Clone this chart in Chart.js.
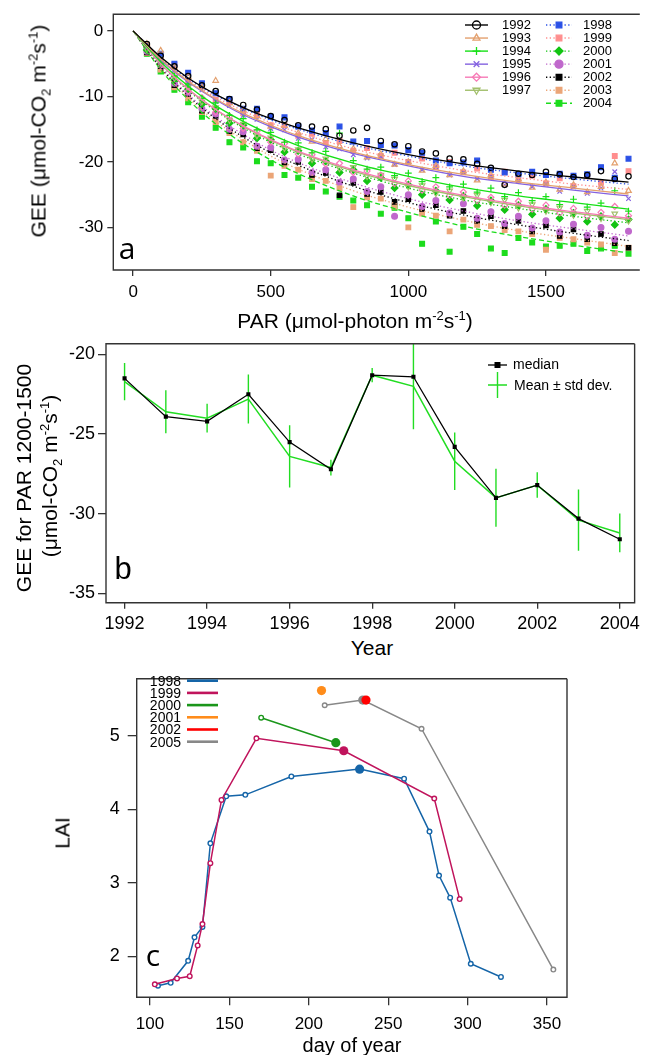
<!DOCTYPE html>
<html>
<head>
<meta charset="utf-8">
<script src="https://cdn.jsdelivr.net/npm/chart.js@4.4.1/dist/chart.umd.min.js"></script>
<style>
  html, body { margin: 0; padding: 0; background: #fff; overflow: hidden; }
  body { width: 645px; height: 1055px; position: relative; font-family: "Liberation Sans", Arial, sans-serif; color: #000; }
  canvas { position: absolute; left: 0; }
  .t { position: absolute; white-space: nowrap; line-height: 1; transform: translate(-50%, -50%); font-size: 21px; }
  .rot { transform: translate(-50%, -50%) rotate(-90deg); }
  .t sup, .t sub { font-size: 0.62em; line-height: 0; }
  .lt { font-family: "Open Sans", sans-serif; font-size: 30px; }
</style>
</head>
<body>
<canvas id="chartA" width="645" height="300" style="top:0"></canvas>
<canvas id="chartB" width="645" height="300" style="top:330px"></canvas>
<canvas id="chartC" width="645" height="395" style="top:660px"></canvas>

<div class="t rot" style="left:38px;top:131px">GEE (μmol-CO<sub>2</sub> m<sup>-2</sup>s<sup>-1</sup>)</div>
<div class="t" style="left:355px;top:320px">PAR (μmol-photon m<sup>-2</sup>s<sup>-1</sup>)</div>
<div class="t lt" style="left:127px;top:248px">a</div>

<div class="t rot" style="left:23px;top:478px">GEE for PAR 1200-1500</div>
<div class="t rot" style="left:49px;top:476px">(μmol-CO<sub>2</sub> m<sup>-2</sup>s<sup>-1</sup>)</div>
<div class="t" style="left:372px;top:647px">Year</div>
<div class="t" style="left:123px;top:568px;font-size:31px">b</div>

<div class="t rot" style="left:62px;top:833px">LAI</div>
<div class="t" style="left:352px;top:1045px;font-size:20px">day of year</div>
<div class="t lt" style="left:153px;top:955px">c</div>

<script>
// ---- panel a: GEE vs PAR, binned points per year + fitted light curves
const YEARS_A = [1992, 1993, 1994, 1995, 1996, 1997, 1998, 1999, 2000, 2001, 2002, 2003, 2004];
const PAR_BINS = [50, 100, 150, 200, 250, 300, 350, 400, 450, 500, 550, 600, 650, 700, 750, 800, 850, 900,
  950, 1000, 1050, 1100, 1150, 1200, 1250, 1300, 1350, 1400, 1450, 1500, 1550, 1600, 1650, 1700, 1750, 1800];
const PAR_TICKS = [0, 500, 1000, 1500];
const GEE_TICKS = [0, -10, -20, -30];

const GEE_1992 = [-2.0,-3.8,-5.4,-6.9,-8.3,-9.2,-10.4,-11.3,-12.0,-13.0,-13.6,-14.4,-14.6,-15.0,-16.0,-15.2,-14.8,-16.8,-17.3,-17.6,-18.4,-18.7,-19.5,-19.6,-20.3,-20.9,-23.5,-21.8,-22.0,-21.5,-21.9,-22.3,-22.0,-21.4,-22.6,-22.2];
const GEE_1993 = [-2.0,-3.0,-5.6,-7.0,-8.6,-7.6,-11.0,-12.1,-13.0,-14.6,-14.5,-15.6,-16.9,-16.5,-17.6,-18.0,-19.3,-18.8,-20.4,-20.0,-21.3,-20.6,-22.0,-21.4,-22.8,-22.0,-23.4,-22.6,-23.9,-23.1,-24.2,-23.5,-24.6,-23.8,-20.2,-24.4];
const GEE_1994 = [-2.6,-4.4,-6.9,-8.1,-10.3,-11.0,-12.9,-13.4,-15.1,-15.5,-17.0,-17.1,-18.6,-18.4,-15.6,-19.8,-21.1,-20.8,-22.1,-21.7,-23.0,-22.4,-23.8,-23.4,-24.6,-24.0,-25.3,-24.7,-25.9,-25.3,-26.5,-25.7,-26.9,-26.3,-24.4,-27.5];
const GEE_1995 = [-2.4,-4.6,-6.0,-8.0,-9.0,-10.8,-11.4,-12.9,-13.5,-14.9,-15.1,-16.4,-16.6,-17.7,-18.0,-18.9,-19.4,-19.2,-20.4,-20.0,-21.2,-20.7,-22.0,-21.6,-22.6,-22.2,-23.5,-22.9,-23.8,-23.4,-24.5,-23.8,-24.8,-24.0,-21.5,-25.6];
const GEE_1996 = [-2.5,-5.2,-6.7,-9.2,-10.2,-12.4,-13.0,-14.9,-15.3,-17.0,-17.2,-18.8,-18.9,-20.3,-20.2,-21.6,-21.4,-22.0,-23.3,-22.9,-24.3,-23.8,-25.1,-24.6,-25.9,-25.4,-26.6,-26.0,-27.2,-26.6,-27.8,-27.1,-28.3,-27.7,-26.8,-28.2];
const GEE_1997 = [-2.8,-4.8,-7.2,-8.6,-10.8,-11.7,-13.6,-14.2,-16.0,-16.3,-17.9,-18.1,-19.6,-19.5,-21.0,-20.8,-22.2,-22.0,-22.6,-23.8,-23.6,-24.8,-24.4,-25.5,-25.1,-26.2,-25.8,-27.0,-26.5,-27.5,-27.0,-28.1,-27.5,-28.6,-27.9,-29.0];
const GEE_1998 = [-2.3,-3.5,-5.0,-6.4,-8.0,-9.5,-10.4,-11.9,-11.9,-13.1,-13.2,-14.6,-15.2,-15.6,-14.6,-16.9,-16.8,-17.4,-17.5,-18.2,-18.6,-19.8,-20.2,-20.1,-19.8,-21.2,-21.6,-21.9,-21.5,-22.0,-21.8,-22.1,-21.9,-20.8,-22.4,-19.5];
const GEE_1999 = [-2.2,-4.5,-5.2,-7.8,-8.4,-10.5,-10.9,-12.6,-12.8,-14.4,-14.4,-16.0,-15.7,-17.1,-16.8,-18.3,-17.9,-19.1,-18.6,-20.0,-19.5,-20.8,-20.0,-21.6,-21.0,-22.3,-21.5,-22.8,-22.1,-23.3,-22.5,-23.7,-22.2,-23.2,-19.1,-21.4];
const GEE_2000 = [-2.9,-5.0,-7.5,-8.9,-11.2,-11.9,-14.1,-14.4,-16.4,-16.6,-18.5,-18.3,-20.2,-19.9,-21.6,-21.2,-22.9,-22.4,-24.0,-23.5,-25.0,-24.4,-25.8,-25.2,-26.7,-25.9,-27.3,-26.6,-28.0,-27.2,-28.6,-27.8,-29.1,-28.3,-29.6,-28.8];
const GEE_2001 = [-3.1,-5.2,-8.0,-9.4,-11.9,-12.7,-15.0,-15.4,-17.6,-17.8,-19.7,-19.6,-21.6,-21.2,-23.1,-22.6,-24.5,-23.8,-28.3,-25.0,-26.8,-25.9,-27.8,-26.4,-28.6,-27.6,-29.4,-28.3,-30.1,-29.0,-30.7,-29.5,-31.2,-30.0,-31.8,-30.6];
const GEE_2002 = [-3.3,-5.4,-8.3,-9.6,-12.2,-13.0,-15.3,-15.8,-17.9,-18.2,-20.1,-20.0,-22.0,-21.7,-25.1,-23.2,-24.9,-24.6,-26.1,-25.7,-27.2,-26.6,-28.2,-27.5,-29.0,-28.3,-29.8,-29.0,-30.6,-29.7,-31.3,-30.3,-31.8,-31.0,-32.4,-33.1];
const GEE_2003 = [-3.4,-5.9,-8.6,-10.3,-12.4,-13.9,-15.6,-17.0,-18.3,-22.1,-20.6,-21.2,-22.6,-22.9,-24.0,-26.9,-25.4,-25.6,-26.8,-30.0,-27.9,-28.2,-30.6,-28.8,-29.6,-29.8,-30.4,-30.6,-31.0,-33.4,-31.6,-31.8,-32.3,-32.6,-33.9,-33.1];
const GEE_2004 = [-3.5,-6.2,-9.0,-10.9,-13.1,-14.8,-17.0,-17.8,-19.9,-20.2,-22.0,-22.4,-23.8,-24.5,-25.3,-25.9,-26.6,-27.9,-27.0,-28.6,-32.5,-29.1,-33.7,-29.9,-31.0,-33.2,-33.9,-31.6,-32.3,-32.9,-32.8,-32.5,-33.6,-33.2,-32.8,-34.0];

// fitted curves, read at these PAR values
const FIT_PAR = [0, 100, 200, 300, 400, 500, 600, 800, 1000, 1200, 1400, 1600, 1800];
const FIT_1992 = [0, -4.0, -7.2, -9.7, -11.7, -13.4, -14.8, -17.1, -18.9, -20.3, -21.4, -22.3, -23.1];
const FIT_1993 = [0, -4.3, -7.7, -10.4, -12.6, -14.4, -16.0, -18.5, -20.4, -21.9, -23.1, -24.0, -24.9];
const FIT_1994 = [0, -4.7, -8.4, -11.4, -13.8, -15.8, -17.5, -20.2, -22.2, -23.9, -25.2, -26.2, -27.2];
const FIT_1995 = [0, -4.4, -7.8, -10.5, -12.8, -14.6, -16.2, -18.7, -20.6, -22.2, -23.3, -24.3, -25.2];
const FIT_1996 = [0, -5.0, -8.9, -12.0, -14.5, -16.6, -18.4, -21.2, -23.4, -25.1, -26.5, -27.6, -28.6];
const FIT_1997 = [0, -5.0, -8.9, -12.0, -14.6, -16.7, -18.5, -21.4, -23.6, -25.3, -26.7, -27.8, -28.8];
const FIT_1998 = [0, -4.1, -7.3, -9.8, -11.8, -13.6, -15.0, -17.4, -19.1, -20.6, -21.7, -22.6, -23.4];
const FIT_1999 = [0, -4.2, -7.5, -10.1, -12.2, -14.0, -15.5, -18.0, -19.8, -21.3, -22.4, -23.4, -24.2];
const FIT_2000 = [0, -5.1, -9.1, -12.2, -14.8, -17.0, -18.8, -21.7, -24.0, -25.8, -27.1, -28.3, -29.3];
const FIT_2001 = [0, -5.4, -9.7, -13.1, -15.8, -18.2, -20.1, -23.2, -25.6, -27.5, -29.0, -30.2, -31.3];
const FIT_2002 = [0, -5.6, -9.9, -13.4, -16.2, -18.6, -20.5, -23.7, -26.2, -28.1, -29.6, -30.9, -32.0];
const FIT_2003 = [0, -5.7, -10.2, -13.8, -16.6, -19.1, -21.1, -24.4, -26.9, -28.9, -30.5, -31.7, -32.9];
const FIT_2004 = [0, -5.9, -10.5, -14.2, -17.2, -19.7, -21.8, -25.2, -27.7, -29.8, -31.4, -32.7, -33.9];

// ---- panel b: GEE at PAR 1200-1500 per year
const YEARS_B = [1992, 1993, 1994, 1995, 1996, 1997, 1998, 1999, 2000, 2001, 2002, 2003, 2004];
const YEAR_TICKS = [1992, 1994, 1996, 1998, 2000, 2002, 2004];
const GEE_B_TICKS = [-20, -25, -30, -35];
const GEE_MEDIAN = [-21.5, -23.9, -24.2, -22.5, -25.5, -27.2, -21.3, -21.4, -25.8, -29.0, -28.2, -30.3, -31.6];
const GEE_MEAN = [-21.7, -23.6, -24.0, -22.8, -26.4, -27.1, -21.3, -22.0, -26.7, -29.0, -28.2, -30.4, -31.2];
const GEE_SD = [1.17, 1.35, 0.9, 1.54, 1.95, 0.49, 0.45, 2.7, 1.8, 1.82, 0.8, 1.92, 1.22];

// ---- panel c: LAI by day of year
const DOY_TICKS = [100, 150, 200, 250, 300, 350];
const LAI_TICKS = [2, 3, 4, 5];
const DOY_1998 = [105, 113, 124, 128, 133, 138, 148, 160, 189, 232, 260, 276, 282, 289, 302, 321];
const LAI_1998 = [1.60, 1.64, 1.94, 2.26, 2.40, 3.54, 4.18, 4.20, 4.45, 4.55, 4.42, 3.70, 3.10, 2.80, 1.90, 1.72];
const DOY_1999 = [103, 117, 125, 130, 133, 138, 145, 167, 222, 279, 295];
const LAI_1999 = [1.62, 1.70, 1.73, 2.15, 2.44, 3.27, 4.13, 4.97, 4.80, 4.15, 2.78];
const DOY_2000 = [170, 217];
const LAI_2000 = [5.25, 4.91];
const DOY_2001 = [208];
const LAI_2001 = [5.62];
const DOY_2002 = [236];
const LAI_2002 = [5.49];
const DOY_2005 = [210, 234, 271, 354];
const LAI_2005 = [5.42, 5.49, 5.10, 1.82];
// day of the big filled symbol in each year
const FILLED_DAY = { 1998: 232, 1999: 222, 2000: 217, 2001: 208, 2002: 236, 2005: 234 };

Chart.defaults.font.family = '"Liberation Sans", Arial, sans-serif';
Chart.defaults.color = "#000";
Chart.defaults.animation = false;

const GEE_BY_YEAR = { 1992: GEE_1992, 1993: GEE_1993, 1994: GEE_1994, 1995: GEE_1995, 1996: GEE_1996, 1997: GEE_1997,
  1998: GEE_1998, 1999: GEE_1999, 2000: GEE_2000, 2001: GEE_2001, 2002: GEE_2002, 2003: GEE_2003, 2004: GEE_2004 };
const FIT_BY_YEAR = { 1992: FIT_1992, 1993: FIT_1993, 1994: FIT_1994, 1995: FIT_1995, 1996: FIT_1996, 1997: FIT_1997,
  1998: FIT_1998, 1999: FIT_1999, 2000: FIT_2000, 2001: FIT_2001, 2002: FIT_2002, 2003: FIT_2003, 2004: FIT_2004 };

const DOT = [1.3, 2.4];
const DASH = [5, 3];
/** symbol, colour, open/filled and line type per year, as in the legend */
const STYLE_A = {
  1992: { color: "#000000", shape: "circle", open: true, r: 2.7 },
  1993: { color: "#e3a06e", shape: "triangle", open: true, r: 3.2 },
  1994: { color: "#16e016", shape: "cross", open: true, r: 3.4 },
  1995: { color: "#8462e0", shape: "crossRot", open: true, r: 3.2 },
  1996: { color: "#f77ab6", shape: "rectRot", open: true, r: 3.0 },
  1997: { color: "#a2bf6c", shape: "triangle", rot: 180, open: true, r: 3.2 },
  1998: { color: "#2a50e6", shape: "rect", dash: DOT, r: 3.4 },
  1999: { color: "#ff8e8e", shape: "rect", dash: DOT, r: 3.3 },
  2000: { color: "#12c412", shape: "rectRot", dash: DOT, r: 3.4 },
  2001: { color: "#c068cc", shape: "circle", dash: DOT, r: 2.9 },
  2002: { color: "#000000", shape: "rect", dash: DOT, r: 3.1 },
  2003: { color: "#eba577", shape: "rect", dash: DOT, r: 3.3 },
  2004: { color: "#1cdc1c", shape: "rect", dash: DASH, r: 3.4 },
};

function linearAxis(o) {
  return {
    type: "linear",
    min: o.min,
    max: o.max,
    afterFit: o.fit,
    afterBuildTicks: (s) => { s.ticks = o.ticks.map((v) => ({ value: v })); },
    grid: { display: true, drawOnChartArea: false, drawTicks: true, tickLength: o.tickLength, color: "#333", lineWidth: 1.3 },
    border: { display: false },
    ticks: { font: { size: o.font }, padding: o.pad, color: "#000", maxRotation: 0, autoSkip: false, callback: (v) => String(v) },
  };
}

const framePlugin = {
  id: "frame",
  afterDraw(chart, args, opts) {
    const { ctx, chartArea: a } = chart;
    ctx.save();
    ctx.strokeStyle = "#333";
    ctx.lineWidth = 1.4;
    ctx.beginPath();
    ctx.moveTo(a.right, a.top);
    ctx.lineTo(a.left, a.top);
    ctx.lineTo(a.left, a.bottom);
    ctx.lineTo(a.right, a.bottom);
    if (opts.right !== false) ctx.lineTo(a.right, a.top);
    ctx.stroke();
    ctx.restore();
  },
};

function marker(ctx, st, x, y, r) {
  ctx.save();
  ctx.strokeStyle = st.color;
  ctx.fillStyle = st.open ? "rgba(0,0,0,0)" : st.color;
  ctx.lineWidth = 1.3;
  Chart.helpers.drawPoint(ctx, { pointStyle: st.shape, radius: r, rotation: st.rot || 0, borderWidth: 1.3 }, x, y);
  ctx.restore();
}

// legend of panel a: two columns of line + symbol + year
const legendA = {
  id: "legendA",
  afterDraw(chart) {
    const ctx = chart.ctx;
    ctx.save();
    ctx.font = '13px "Liberation Sans", Arial, sans-serif';
    ctx.textBaseline = "middle";
    YEARS_A.forEach((yr, i) => {
      const col = i < 6 ? 0 : 1;
      const row = col ? i - 6 : i;
      const x0 = col ? 546 : 465;
      const x1 = col ? 572 : 488;
      const tx = col ? 583 : 502;
      const y = 25 + row * 13.05;
      const st = STYLE_A[yr];
      ctx.strokeStyle = st.color;
      ctx.lineWidth = st.dash === DASH ? 1.6 : 1.4;
      ctx.setLineDash(st.dash || []);
      ctx.beginPath();
      ctx.moveTo(x0, y);
      ctx.lineTo(x1, y);
      ctx.stroke();
      ctx.setLineDash([]);
      marker(ctx, st, (x0 + x1) / 2, y, 4);
      ctx.fillStyle = "#000";
      ctx.fillText(String(yr), tx, y + 0.5);
    });
    ctx.restore();
  },
};

const datasetsA = [];
YEARS_A.forEach((yr) => {
  const st = STYLE_A[yr];
  datasetsA.push({
    label: yr + " fit",
    data: FIT_PAR.map((p, i) => ({ x: p, y: FIT_BY_YEAR[yr][i] })),
    showLine: true,
    borderColor: st.color,
    borderWidth: 1.3,
    borderDash: st.dash || [],
    cubicInterpolationMode: "monotone",
    pointRadius: 0,
  });
});
YEARS_A.forEach((yr) => {
  const st = STYLE_A[yr];
  datasetsA.push({
    label: String(yr),
    data: PAR_BINS.map((p, i) => ({ x: p, y: GEE_BY_YEAR[yr][i] })),
    showLine: false,
    pointStyle: st.shape,
    rotation: st.rot || 0,
    pointRadius: st.r,
    pointBorderWidth: 1.2,
    pointBorderColor: st.color,
    pointBackgroundColor: st.open ? "rgba(0,0,0,0)" : st.color,
  });
});

new Chart(document.getElementById("chartA"), {
  type: "scatter",
  data: { datasets: datasetsA },
  options: {
    responsive: false,
    devicePixelRatio: 1,
    layout: { padding: { top: 13.3, right: 0, left: 0, bottom: 0 } },
    plugins: { legend: { display: false }, tooltip: { enabled: false }, frame: { right: false } },
    scales: {
      x: linearAxis({ min: -72, max: 1841, ticks: PAR_TICKS, tickLength: 6, pad: 6, font: 17, fit: (s) => { s.height = 30; } }),
      y: linearAxis({ min: -36.5, max: 2.55, ticks: GEE_TICKS, tickLength: 6, pad: 4, font: 17, fit: (s) => { s.width = 113.3; } }),
    },
  },
  plugins: [framePlugin, legendA],
});

// ---- panel b
const GREEN_B = "#22dd22";
const errorBars = {
  id: "errorBars",
  beforeDatasetsDraw(chart) {
    const { ctx, chartArea: a, scales } = chart;
    ctx.save();
    ctx.beginPath();
    ctx.rect(a.left, a.top, a.right - a.left, a.bottom - a.top);
    ctx.clip();
    ctx.strokeStyle = GREEN_B;
    ctx.lineWidth = 1.4;
    YEARS_B.forEach((yr, i) => {
      const x = scales.x.getPixelForValue(yr);
      ctx.beginPath();
      ctx.moveTo(x, scales.y.getPixelForValue(GEE_MEAN[i] + GEE_SD[i]));
      ctx.lineTo(x, scales.y.getPixelForValue(GEE_MEAN[i] - GEE_SD[i]));
      ctx.stroke();
    });
    ctx.restore();
  },
};

const legendB = {
  id: "legendB",
  afterDraw(chart) {
    const ctx = chart.ctx;
    ctx.save();
    ctx.font = '14px "Liberation Sans", Arial, sans-serif';
    ctx.textBaseline = "middle";
    // median
    let y = 35;
    ctx.strokeStyle = "#000";
    ctx.lineWidth = 1.3;
    ctx.beginPath(); ctx.moveTo(488, y); ctx.lineTo(507, y); ctx.stroke();
    ctx.fillStyle = "#000";
    ctx.fillRect(494.5, y - 3, 6, 6);
    ctx.fillText("median", 513, y);
    // mean ± sd
    y = 55;
    ctx.strokeStyle = GREEN_B;
    ctx.lineWidth = 1.4;
    ctx.beginPath();
    ctx.moveTo(488, y); ctx.lineTo(507, y);
    ctx.moveTo(497.5, y - 13); ctx.lineTo(497.5, y + 13);
    ctx.stroke();
    ctx.fillStyle = "#000";
    ctx.fillText("Mean \u00b1 std dev.", 514, y + 1);
    ctx.restore();
  },
};

new Chart(document.getElementById("chartB"), {
  type: "scatter",
  data: {
    datasets: [
      {
        label: "median",
        data: YEARS_B.map((yr, i) => ({ x: yr, y: GEE_MEDIAN[i] })),
        showLine: true,
        borderColor: "#000",
        borderWidth: 1.3,
        pointStyle: "rect",
        pointRadius: 2.9,
        pointBorderWidth: 0,
        pointBackgroundColor: "#000",
      },
      {
        label: "Mean \u00b1 std dev.",
        data: YEARS_B.map((yr, i) => ({ x: yr, y: GEE_MEAN[i] })),
        showLine: true,
        borderColor: GREEN_B,
        borderWidth: 1.5,
        pointRadius: 0,
      },
    ],
  },
  options: {
    responsive: false,
    devicePixelRatio: 1,
    layout: { padding: { top: 12.7, right: 7.5, left: 0, bottom: 0 } },
    plugins: { legend: { display: false }, tooltip: { enabled: false }, frame: {} },
    scales: {
      x: linearAxis({ min: 1991.55, max: 2004.36, ticks: YEAR_TICKS, tickLength: 6, pad: 5, font: 18, fit: (s) => { s.height = 27.3; } }),
      y: linearAxis({ min: -35.58, max: -19.33, ticks: GEE_B_TICKS, tickLength: 8, pad: 3, font: 18, fit: (s) => { s.width = 106; } }),
    },
  },
  plugins: [framePlugin, errorBars, legendB],
});

// ---- panel c
const LAI_SERIES = [
  { year: 2002, doy: DOY_2002, lai: LAI_2002, color: "#ff0000" },
  { year: 2001, doy: DOY_2001, lai: LAI_2001, color: "#ff8c1a" },
  { year: 1999, doy: DOY_1999, lai: LAI_1999, color: "#c0145c" },
  { year: 2000, doy: DOY_2000, lai: LAI_2000, color: "#1a961a" },
  { year: 1998, doy: DOY_1998, lai: LAI_1998, color: "#1565a8" },
  { year: 2005, doy: DOY_2005, lai: LAI_2005, color: "#888888" },
];
const LEGEND_C_ORDER = [1998, 1999, 2000, 2001, 2002, 2005];

const legendC = {
  id: "legendC",
  afterDraw(chart) {
    const ctx = chart.ctx;
    ctx.save();
    ctx.font = '14px "Liberation Sans", Arial, sans-serif';
    ctx.textBaseline = "middle";
    ctx.textAlign = "right";
    LEGEND_C_ORDER.forEach((yr, i) => {
      const s = LAI_SERIES.find((d) => d.year === yr);
      const y = 20.7 + i * 12.2;
      ctx.fillStyle = "#000";
      ctx.fillText(String(yr), 181, y + 1);
      ctx.strokeStyle = s.color;
      ctx.lineWidth = 2.6;
      ctx.beginPath(); ctx.moveTo(187, y); ctx.lineTo(218, y); ctx.stroke();
    });
    ctx.restore();
  },
};

new Chart(document.getElementById("chartC"), {
  type: "scatter",
  data: {
    datasets: LAI_SERIES.map((s) => ({
      label: String(s.year),
      data: s.doy.map((d, i) => ({ x: d, y: s.lai[i] })),
      showLine: true,
      borderColor: s.color,
      borderWidth: 1.5,
      pointStyle: "circle",
      pointRadius: (c) => (c.raw && c.raw.x === FILLED_DAY[s.year] ? 4.6 : 2.3),
      pointBorderWidth: (c) => (c.raw && c.raw.x === FILLED_DAY[s.year] ? 0 : 1.4),
      pointBorderColor: s.color,
      pointBackgroundColor: (c) => (c.raw && c.raw.x === FILLED_DAY[s.year] ? s.color : "#fff"),
    })),
  },
  options: {
    responsive: false,
    devicePixelRatio: 1,
    layout: { padding: { top: 11.7, right: 78, left: 0, bottom: 0 } },
    plugins: { legend: { display: false }, tooltip: { enabled: false }, frame: {} },
    scales: {
      x: linearAxis({ min: 91.6, max: 362.6, ticks: DOY_TICKS, tickLength: 8, pad: 9, font: 17, fit: (s) => { s.height = 57.7; } }),
      y: linearAxis({ min: 1.443, max: 5.78, ticks: LAI_TICKS, tickLength: 9, pad: 8, font: 18, fit: (s) => { s.width = 136.7; } }),
    },
  },
  plugins: [framePlugin, legendC],
});
</script>
</body>
</html>
